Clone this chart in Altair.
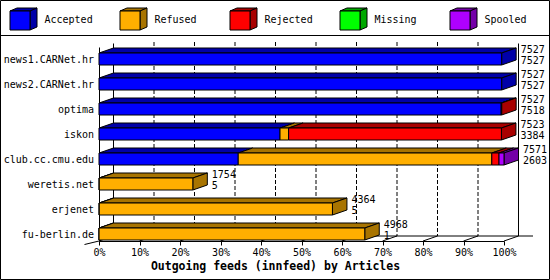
import altair as alt
import pandas as pd

# ---------------- data ----------------
hosts = ["news1.CARNet.hr", "news2.CARNet.hr", "optima", "iskon",
         "club.cc.cmu.edu", "weretis.net", "erjenet", "fu-berlin.de"]
offered = [7527, 7527, 7527, 7523, 7571, 1754, 4364, 4968]
accepted = [7527, 7527, 7518, 3384, 2603, 5, 5, 1]
refused = [0, 0, 0, 160, 4740, 1749, 4359, 4967]
rejected = [0, 0, 9, 3979, 135, 0, 0, 0]
missing = [0, 0, 0, 0, 0, 0, 0, 0]
spooled = [0, 0, 0, 0, 93, 0, 0, 0]

statuses = ["Accepted", "Refused", "Rejected", "Missing", "Spooled"]
front_colors = ["#0000FF", "#FFAF00", "#FF0000", "#00FF00", "#AF00FF"]
dark_colors = ["#0000A8", "#A87400", "#A80000", "#00A800", "#7400A8"]
tick_pct = list(range(0, 101, 10))
x_title = "Outgoing feeds (innfeed) by Articles"

# ---------------- layout constants ----------------
MONO = "DejaVu Sans Mono"
W, H = 405, 194
PX_PER_PCT = W / 100.0
ROW_PX = 25.0
DXU = 14.5 / PX_PER_PCT        # depth in x (percent units)
DYU = 5.0 / ROW_PX             # depth in y (row units)
HALF = 6.0 / ROW_PX            # half bar height (row units)
Y_MIN, Y_MAX = -0.48, 7.28
BACK_TOP = Y_MIN - 0.2
FLOOR_FRONT = Y_MAX
FLOOR_BACK = Y_MAX - DYU

xscale = alt.Scale(domain=[0, 100], nice=False, zero=False)
yscale = alt.Scale(domain=[Y_MIN, Y_MAX], nice=False, zero=False, reverse=True)

maxv = max(offered)
def pct(v):
    return v / maxv * 100.0

front_of = dict(zip(statuses, front_colors))
dark_of = dict(zip(statuses, dark_colors))

# ---------------- derived tables ----------------
segs, tops, sides, nums = [], [], [], []
fid = 0
for i, h in enumerate(hosts):
    vals = [accepted[i], refused[i], rejected[i], missing[i], spooled[i]]
    cum = 0
    last = None
    for s, v in zip(statuses, vals):
        if v <= 0:
            continue
        x0, x1 = pct(cum), pct(cum + v)
        segs.append(dict(row=i, status=s, x0=x0, x1=x1, yt=i - HALF, yb=i + HALF,
                         front=front_of[s]))
        tops.append(dict(fid=fid, yy=i - HALF, xa=x0, xb=x1, dark=dark_of[s]))
        tops.append(dict(fid=fid, yy=i - HALF - DYU, xa=x0 + DXU, xb=x1 + DXU, dark=dark_of[s]))
        fid += 1
        cum += v
        last = (s, x1)
    s, x1 = last
    sides.append(dict(fid=i, xs=x1, ya=i + HALF, yb=i - HALF, dark=dark_of[s]))
    sides.append(dict(fid=i, xs=x1 + DXU, ya=i + HALF - DYU, yb=i - HALF - DYU, dark=dark_of[s]))
    nums.append(dict(row=i, host=h, xe=pct(offered[i]) + DXU, offered=offered[i],
                     accepted=accepted[i]))

segs = pd.DataFrame(segs)
tops = pd.DataFrame(tops)
sides = pd.DataFrame(sides)
nums = pd.DataFrame(nums)
grid = pd.DataFrame({"pct": tick_pct})
one = pd.DataFrame({"a": [0]})

# legend geometry (pixels relative to plot origin)
leg_front, leg_top, leg_side = [], [], []
for k, s in enumerate(statuses):
    bx = -89 + 110 * k
    leg_front.append(dict(lx0=bx, lx1=bx + 20, ly0=-36, ly1=-17, front=front_of[s],
                          tx=bx + 34.5, ty=-27, label=s))
    leg_top.append(dict(fid=k, ly=-36, la=bx, lb=bx + 20, dark=dark_of[s]))
    leg_top.append(dict(fid=k, ly=-39, la=bx + 7, lb=bx + 27, dark=dark_of[s]))
    leg_side.append(dict(fid=k, lsx=bx + 20, lya=-17, lyb=-36, dark=dark_of[s]))
    leg_side.append(dict(fid=k, lsx=bx + 27, lya=-20, lyb=-39, dark=dark_of[s]))
leg_front = pd.DataFrame(leg_front)
leg_top = pd.DataFrame(leg_top)
leg_side = pd.DataFrame(leg_side)

# ---------------- axes layer (first, invisible marks) ----------------
axes_layer = alt.Chart(segs).mark_rect(opacity=0).encode(
    x=alt.X("x0:Q", scale=xscale,
            axis=alt.Axis(values=tick_pct, labelExpr="datum.value + '%'", title=x_title,
                          grid=False, domainColor="black", domainWidth=1, tickColor="black",
                          tickSize=4, labelFont=MONO, labelFontSize=10, labelColor="black",
                          labelPadding=2, labelFlush=False, labelOverlap=False,
                          titleFont=MONO, titleFontSize=11.5, titleFontWeight="bold",
                          titleColor="black", titlePadding=3, titleX=176, titleAlign="center")),
    x2="x1:Q",
    y=alt.Y("yt:Q", scale=yscale,
            axis=alt.Axis(labels=False, ticks=False, grid=False, domainColor="black",
                          domainWidth=1, title=None)),
    y2="yb:Q")

# ---------------- layers ----------------
gridlines = alt.Chart(grid).transform_filter("datum.pct > 0 && datum.pct < 100").transform_calculate(
    xb=f"datum.pct + {DXU}").mark_rule(color="black", strokeWidth=1, strokeDash=[4, 2]).encode(
    x=alt.X("xb:Q", scale=xscale),
    y=alt.Y(datum=BACK_TOP, scale=yscale),
    y2=alt.datum(FLOOR_BACK))

walls = alt.Chart(grid).transform_filter("datum.pct == 0 || datum.pct == 100").transform_calculate(
    xb=f"datum.pct + {DXU}").mark_rule(color="black", strokeWidth=1).encode(
    x=alt.X("xb:Q", scale=xscale),
    y=alt.Y(datum=BACK_TOP + 0.06, scale=yscale),
    y2=alt.datum(FLOOR_BACK))

floor_diag = alt.Chart(grid).transform_calculate(
    xb=f"datum.pct + {DXU}").mark_rule(color="black", strokeWidth=1).encode(
    x=alt.X("pct:Q", scale=xscale),
    x2="xb:Q",
    y=alt.Y(datum=FLOOR_FRONT, scale=yscale),
    y2=alt.datum(FLOOR_BACK))

floor_back = alt.Chart(one).mark_rule(color="black", strokeWidth=1).encode(
    x=alt.X(datum=DXU, scale=xscale),
    x2=alt.datum(100 + 2 * DXU),
    y=alt.Y(datum=FLOOR_BACK, scale=yscale))

left_diag = alt.Chart(one).mark_rule(color="black", strokeWidth=1).encode(
    x=alt.X(datum=0, scale=xscale),
    x2=alt.datum(-DXU),
    y=alt.Y(datum=FLOOR_FRONT, scale=yscale),
    y2=alt.datum(FLOOR_FRONT + 0.14))

top_faces = alt.Chart(tops).mark_area(orient="horizontal", stroke="black", strokeWidth=1).encode(
    y=alt.Y("yy:Q", scale=yscale),
    x=alt.X("xa:Q", scale=xscale, stack=None),
    x2="xb:Q",
    detail="fid:N",
    fill=alt.Fill("dark:N", scale=None))

side_faces = alt.Chart(sides).mark_area(orient="vertical", stroke="black", strokeWidth=1).encode(
    x=alt.X("xs:Q", scale=xscale),
    y=alt.Y("ya:Q", scale=yscale, stack=None),
    y2="yb:Q",
    detail="fid:N",
    fill=alt.Fill("dark:N", scale=None))

front_faces = alt.Chart(segs).mark_rect(stroke="black", strokeWidth=1).encode(
    x=alt.X("x0:Q", scale=xscale),
    x2="x1:Q",
    y=alt.Y("yt:Q", scale=yscale),
    y2="yb:Q",
    fill=alt.Fill("front:N", scale=None))

host_labels = alt.Chart(nums).mark_text(align="right", baseline="middle", dx=-5, dy=0.5,
                                        font=MONO, fontSize=10, color="black").encode(
    x=alt.X(datum=0, scale=xscale),
    y=alt.Y("row:Q", scale=yscale),
    text="host:N")

num_top = alt.Chart(nums).mark_text(align="left", baseline="middle", dx=4.5, dy=-9.5,
                                    font=MONO, fontSize=10, color="black").encode(
    x=alt.X("xe:Q", scale=xscale),
    y=alt.Y("row:Q", scale=yscale),
    text=alt.Text("offered:Q", format="d"))

num_bot = alt.Chart(nums).mark_text(align="left", baseline="middle", dx=4.5, dy=1.5,
                                    font=MONO, fontSize=10, color="black").encode(
    x=alt.X("xe:Q", scale=xscale),
    y=alt.Y("row:Q", scale=yscale),
    text=alt.Text("accepted:Q", format="d"))

leg_top_l = alt.Chart(leg_top).mark_area(orient="horizontal", stroke="black", strokeWidth=1).encode(
    y=alt.Y("ly:Q", scale=None),
    x=alt.X("la:Q", scale=None, stack=None),
    x2="lb:Q",
    detail="fid:N",
    fill=alt.Fill("dark:N", scale=None))

leg_side_l = alt.Chart(leg_side).mark_area(orient="vertical", stroke="black", strokeWidth=1).encode(
    x=alt.X("lsx:Q", scale=None),
    y=alt.Y("lya:Q", scale=None, stack=None),
    y2="lyb:Q",
    detail="fid:N",
    fill=alt.Fill("dark:N", scale=None))

leg_front_l = alt.Chart(leg_front).mark_rect(stroke="black", strokeWidth=1).encode(
    x=alt.X("lx0:Q", scale=None), x2="lx1:Q",
    y=alt.Y("ly0:Q", scale=None), y2="ly1:Q",
    fill=alt.Fill("front:N", scale=None))

leg_text = alt.Chart(leg_front).mark_text(align="left", baseline="middle", font=MONO,
                                          fontSize=10, color="black").encode(
    x=alt.X("tx:Q", scale=None), y=alt.Y("ty:Q", scale=None), text="label:N")

border = alt.Chart(one).mark_rect(fillOpacity=0, stroke="black", strokeWidth=1).encode(
    x=alt.value(-98.5), x2=alt.value(450.5), y=alt.value(-46.5), y2=alt.value(232.5))

separator = alt.Chart(one).mark_rule(color="black", strokeWidth=1).encode(
    x=alt.value(-99), x2=alt.value(451), y=alt.value(-11.5))

chart = alt.layer(
    axes_layer, gridlines, walls, floor_diag, floor_back, left_diag,
    top_faces, side_faces, front_faces, host_labels, num_top, num_bot,
    leg_top_l, leg_side_l, leg_front_l, leg_text, border, separator
).properties(
    width=W, height=H,
    autosize=alt.AutoSizeParams(type="none"),
    padding={"left": 99, "top": 47, "right": 46, "bottom": 39},
).configure(background="white").configure_view(stroke=None)

chart.save("out.html", embed_options={"renderer": "svg", "actions": False})
